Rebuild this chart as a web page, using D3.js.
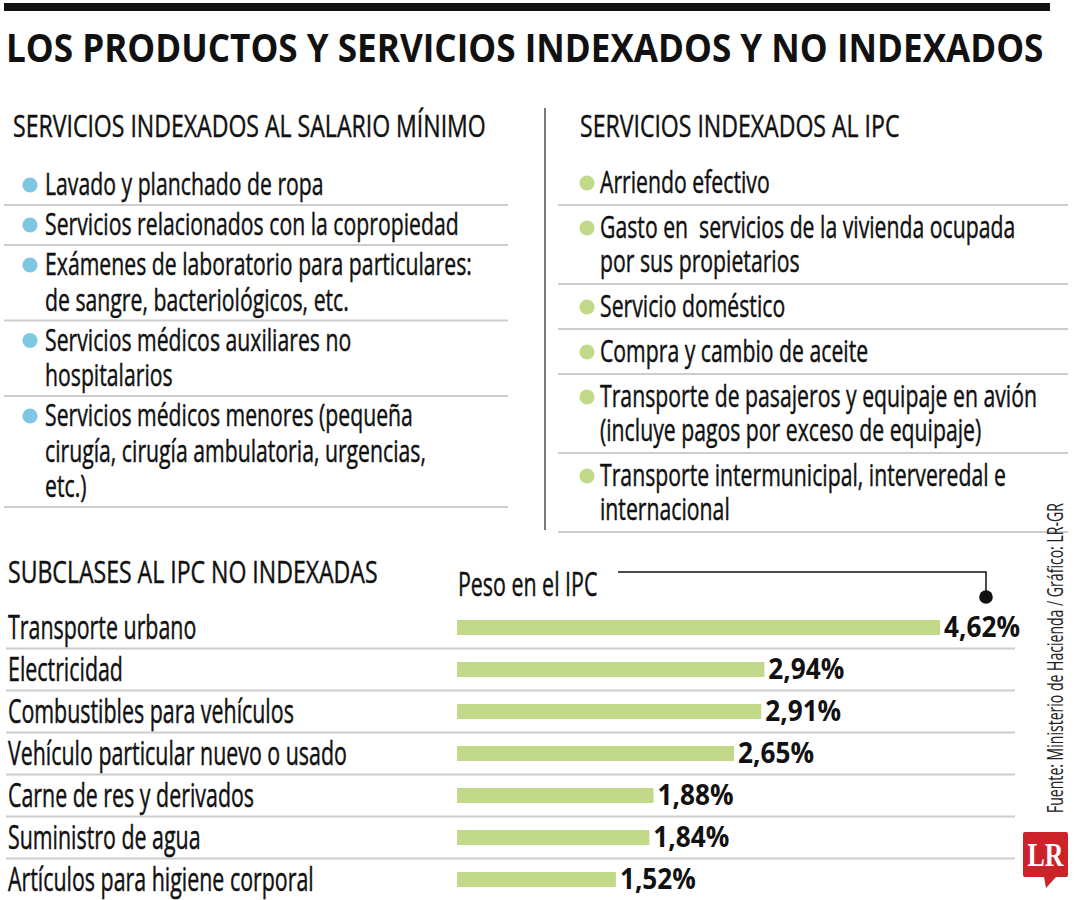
<!DOCTYPE html>
<html><head><meta charset="utf-8">
<script src="https://cdn.jsdelivr.net/npm/d3@7"></script>
<style>body{margin:0;background:#fff} text{white-space:pre}</style>
</head><body><svg id="c" width="1080" height="900"></svg>
<script>
// ---------- DATA ----------
const title = "LOS PRODUCTOS Y SERVICIOS INDEXADOS Y NO INDEXADOS";
const leftHeading = "SERVICIOS INDEXADOS AL SALARIO MÍNIMO";
const leftItems = [
  ["Lavado y planchado de ropa"],
  ["Servicios relacionados con la copropiedad"],
  ["Exámenes de laboratorio para particulares:", "de sangre, bacteriológicos, etc."],
  ["Servicios médicos auxiliares no", "hospitalarios"],
  ["Servicios médicos menores (pequeña", "cirugía, cirugía ambulatoria, urgencias,", "etc.)"]
];
const rightHeading = "SERVICIOS INDEXADOS AL IPC";
const rightItems = [
  ["Arriendo efectivo"],
  ["Gasto en  servicios de la vivienda ocupada", "por sus propietarios"],
  ["Servicio doméstico"],
  ["Compra y cambio de aceite"],
  ["Transporte de pasajeros y equipaje en avión", "(incluye pagos por exceso de equipaje)"],
  ["Transporte intermunicipal, interveredal e", "internacional"]
];
const chartHeading = "SUBCLASES AL IPC NO INDEXADAS";
const valueHeading = "Peso en el IPC";
const categories = ["Transporte urbano", "Electricidad", "Combustibles para vehículos",
  "Vehículo particular nuevo o usado", "Carne de res y derivados", "Suministro de agua",
  "Artículos para higiene corporal"];
const values = [4.62, 2.94, 2.91, 2.65, 1.88, 1.84, 1.52];
const valueLabels = ["4,62%", "2,94%", "2,91%", "2,65%", "1,88%", "1,84%", "1,52%"];
const source = "Fuente: Ministerio de Hacienda / Gráfico: LR-GR";
const logoText = "LR";

// ---------- STYLE ----------
const FONT = "'Open Sans', 'Noto Sans', sans-serif";
const SERIF = "'Liberation Serif', 'DejaVu Serif', serif";
const BLUE = "#7ec8e3", GREEN = "#c3d98a", SEP = "#cdcdcd", RED = "#cc2229";
const W_BODY = 400;

const svg = d3.select("#c");
function measure(str, family, weight, size) {
  const t = svg.append("text").attr("font-family", family).attr("font-weight", weight)
    .attr("font-size", size).text(str);
  const w = t.node().getComputedTextLength(); t.remove(); return w;
}
// horizontal condensing factors calibrated against widths seen in the reference
const sxBody  = 414 / measure("Servicios relacionados con la copropiedad", FONT, W_BODY, 31);
const sxHead  = 473 / measure(leftHeading, FONT, W_BODY, 31);
const sxLabel = 339 / measure("Vehículo particular nuevo o usado", FONT, W_BODY, 32);
const sxTitle = 1038 / measure(title, FONT, 700, 40);
const sxVal   = 76 / measure("4,62%", FONT, 700, 28);
const sxSrc   = 310 / measure(source, FONT, 400, 21);
const sxLogo  = 36 / measure(logoText, SERIF, 700, 33);

function txt(x, y, s, o) {
  const t = svg.append("text")
    .attr("transform", `translate(${x},${y}) scale(${o.sx},1)`)
    .attr("font-family", o.family || FONT)
    .attr("font-weight", o.weight || W_BODY)
    .attr("font-size", o.size)
    .attr("fill", o.fill || "#111")
    .attr("text-anchor", o.anchor || "start")
    .text(s);
  if (!o.weight) t.attr("stroke", o.fill || "#111").attr("stroke-width", 0.45);
  return t;
}

// top rule + title
svg.append("rect").attr("x", 4).attr("y", 3).attr("width", 1046).attr("height", 8).attr("fill", "#111");
txt(6, 62, title, {sx: sxTitle, size: 40, weight: 700});

// headings
txt(13, 137, leftHeading, {sx: sxHead, size: 31});
txt(580, 137, rightHeading, {sx: sxHead, size: 31});

// divider
svg.append("line").attr("x1", 545).attr("x2", 545).attr("y1", 108).attr("y2", 530)
  .attr("stroke", "#7a7a7a").attr("stroke-width", 2);

function drawList(items, p) {
  let sep = p.startSep;
  items.forEach(lines => {
    const b0 = sep + p.firstOff;
    svg.append("circle").attr("cx", p.bulletX).attr("cy", b0 - 10).attr("r", 7.6).attr("fill", p.color);
    lines.forEach((l, i) => txt(p.textX, b0 + i * p.lineStep, l, {sx: sxBody, size: 31}));
    sep = b0 + (lines.length - 1) * p.lineStep + p.bottomPad;
    svg.append("line").attr("x1", p.x0).attr("x2", p.x1).attr("y1", sep).attr("y2", sep)
      .attr("stroke", SEP).attr("stroke-width", 2);
  });
}
drawList(leftItems, {startSep: 165, firstOff: 30, lineStep: 35.5, bottomPad: 10,
  bulletX: 30, textX: 45, x0: 4, x1: 508, color: BLUE});
drawList(rightItems, {startSep: 160, firstOff: 33, lineStep: 34, bottomPad: 12,
  bulletX: 587, textX: 600, x0: 558, x1: 1068, color: GREEN});

// ---------- BAR CHART ----------
const x = d3.scaleLinear().domain([0, d3.max(values)]).range([457, 940]);
const y = d3.scaleBand().domain(categories).range([606.5, 900.5]).padding(0);
const barH = 15;

txt(8, 583, chartHeading, {sx: sxHead, size: 31});
txt(458, 596, valueHeading, {sx: sxLabel, size: 32});

// leader line to the top value
const lx = x(d3.max(values)) + 46;
svg.append("path").attr("d", `M618,572H${lx}V597`).attr("fill", "none")
  .attr("stroke", "#111").attr("stroke-width", 1.5);
svg.append("circle").attr("cx", lx).attr("cy", 597).attr("r", 6.8).attr("fill", "#111");

const rows = categories.map((c, i) => ({c, v: values[i], lab: valueLabels[i], i}));
rows.forEach(d => {
  const yc = y(d.c) + y.bandwidth() / 2;
  if (d.i < rows.length - 1) {
    svg.append("line").attr("x1", 6).attr("x2", 1015)
      .attr("y1", y(d.c) + y.bandwidth()).attr("y2", y(d.c) + y.bandwidth())
      .attr("stroke", SEP).attr("stroke-width", 2);
  }
  svg.append("rect").attr("x", x(0)).attr("y", yc - barH / 2)
    .attr("width", x(d.v) - x(0)).attr("height", barH).attr("fill", GREEN);
  txt(8, yc + 11.5, d.c, {sx: sxLabel, size: 32});
  txt(x(d.v) + 4, yc + 9.5, d.lab, {sx: sxVal, size: 28, weight: 700});
});

// source (vertical)
svg.append("text")
  .attr("transform", `translate(1063,813) rotate(-90) scale(${sxSrc},1)`)
  .attr("font-family", FONT).attr("font-weight", 400).attr("font-size", 21)
  .attr("fill", "#222").text(source);

// logo
svg.append("path")
  .attr("d", "M1025,832H1066Q1068,832 1068,834V875Q1068,877 1066,877H1056L1046,888L1044,877H1025Q1023,877 1023,875V834Q1023,832 1025,832Z")
  .attr("fill", RED);
svg.append("text")
  .attr("transform", `translate(1045.5,866) scale(${sxLogo},1)`)
  .attr("font-family", SERIF).attr("font-weight", 700).attr("font-size", 33)
  .attr("fill", "#fff").attr("text-anchor", "middle").text(logoText);
</script>
</body></html>
